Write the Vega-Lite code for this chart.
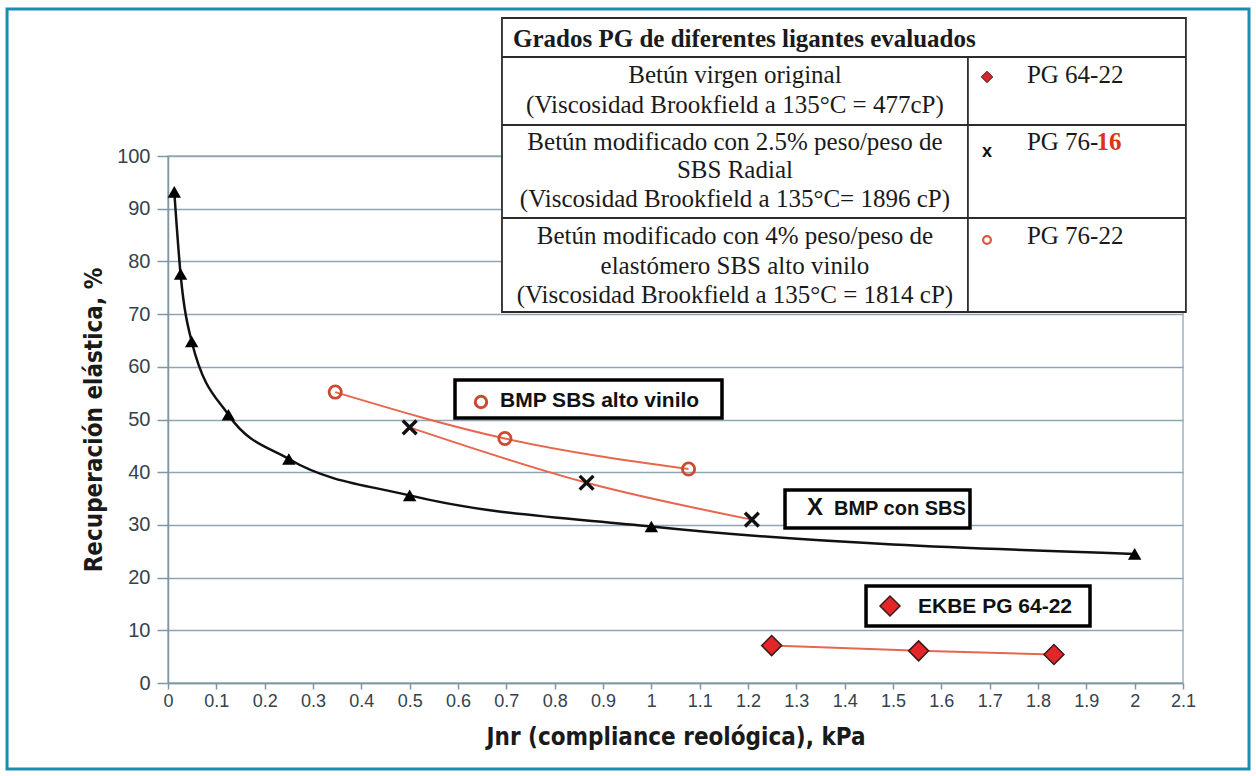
{
  "$schema": "https://vega.github.io/schema/vega-lite/v6.json",
  "width": 1015,
  "height": 527,
  "autosize": {"type": "none"},
  "padding": {"left": 168, "top": 156, "right": 73, "bottom": 93},
  "background": "white",
  "config": {"view": {"stroke": "#a3b3bd", "strokeWidth": 1.5}, "font": "Liberation Sans"},
  "datasets": {
    "series": [
      {"serie": "Referencia", "jnr": 0.013, "rec": 93.2},
      {"serie": "Referencia", "jnr": 0.026, "rec": 77.6},
      {"serie": "Referencia", "jnr": 0.049, "rec": 64.8},
      {"serie": "Referencia", "jnr": 0.125, "rec": 50.9},
      {"serie": "Referencia", "jnr": 0.25, "rec": 42.5},
      {"serie": "Referencia", "jnr": 0.5, "rec": 35.6},
      {"serie": "Referencia", "jnr": 1.0, "rec": 29.7},
      {"serie": "Referencia", "jnr": 2.0, "rec": 24.5},
      {"serie": "BMP SBS alto vinilo", "jnr": 0.346, "rec": 55.2},
      {"serie": "BMP SBS alto vinilo", "jnr": 0.697, "rec": 46.4},
      {"serie": "BMP SBS alto vinilo", "jnr": 1.077, "rec": 40.6},
      {"serie": "BMP con SBS", "jnr": 0.5, "rec": 48.5},
      {"serie": "BMP con SBS", "jnr": 0.866, "rec": 38.0},
      {"serie": "BMP con SBS", "jnr": 1.208, "rec": 31.0},
      {"serie": "EKBE PG 64-22", "jnr": 1.249, "rec": 7.1},
      {"serie": "EKBE PG 64-22", "jnr": 1.553, "rec": 6.1},
      {"serie": "EKBE PG 64-22", "jnr": 1.833, "rec": 5.4}
    ],
    "one": [{}]
  },
  "layer": [
    {"data": {"name": "one"},
     "mark": {"type": "rect", "filled": false, "stroke": "#1b8db1", "strokeWidth": 3},
     "encoding": {"x": {"datum": -0.333}, "x2": {"datum": 2.2366}, "y": {"datum": 127.9}, "y2": {"datum": -16.32}}},
    {"data": {"name": "series"},
     "transform": [{"filter": "datum.serie === 'Referencia'"}],
     "mark": {"type": "line", "interpolate": "monotone", "color": "#111111", "strokeWidth": 2.5},
     "encoding": {
      "x": {"field": "jnr", "type": "quantitative",
        "scale": {"domain": [0, 2.1], "nice": false, "zero": false},
        "axis": {"title": "Jnr (compliance reológica), kPa",
          "values": [0, 0.1, 0.2, 0.3, 0.4, 0.5, 0.6, 0.7, 0.8, 0.9, 1, 1.1, 1.2, 1.3, 1.4, 1.5, 1.6, 1.7, 1.8, 1.9, 2, 2.1],
          "format": "~g", "grid": false, "labelFlush": false, "labelOverlap": false,
          "domainColor": "#7f97a5", "domainWidth": 1.5, "tickColor": "#7f97a5", "tickWidth": 1.5, "tickSize": 6,
          "labelFont": "Liberation Sans", "labelFontSize": 18, "labelColor": "#34424c", "labelPadding": 3,
          "titleFont": "Liberation Sans Narrow, DejaVu Sans Condensed, Liberation Sans", "titleFontSize": 24, "titleFontWeight": "bold",
          "titleColor": "#1a1a1a", "titlePadding": 15}},
      "y": {"field": "rec", "type": "quantitative",
        "scale": {"domain": [0, 100], "nice": false, "zero": false},
        "axis": {"title": "Recuperación elástica, %",
          "values": [0, 10, 20, 30, 40, 50, 60, 70, 80, 90, 100],
          "grid": true, "gridColor": "#8ea5b2", "gridWidth": 1.5, "labelOverlap": false,
          "domainColor": "#7f97a5", "domainWidth": 1.5, "tickColor": "#7f97a5", "tickWidth": 1.5, "tickSize": 11,
          "labelFont": "Liberation Sans", "labelFontSize": 20, "labelColor": "#34424c", "labelPadding": 7,
          "titleFont": "Liberation Sans Narrow, DejaVu Sans Condensed, Liberation Sans", "titleFontSize": 24, "titleFontWeight": "bold",
          "titleColor": "#1a1a1a", "titlePadding": 10}}
     }},
    {"data": {"name": "series"},
     "transform": [{"filter": "datum.serie !== 'Referencia'"}],
     "mark": {"type": "line", "interpolate": "monotone", "color": "#e8664e", "strokeWidth": 2},
     "encoding": {"x": {"field": "jnr", "type": "quantitative"}, "y": {"field": "rec", "type": "quantitative"}, "detail": {"field": "serie"}}},
    {"data": {"name": "series"},
     "transform": [{"filter": "datum.serie === 'Referencia'"}],
     "mark": {"type": "point", "shape": "triangle-up", "filled": true, "color": "#000000", "size": 180, "opacity": 1},
     "encoding": {"x": {"field": "jnr", "type": "quantitative"}, "y": {"field": "rec", "type": "quantitative"}}},
    {"data": {"name": "series"},
     "transform": [{"filter": "datum.serie === 'BMP SBS alto vinilo'"}],
     "mark": {"type": "point", "shape": "circle", "filled": false, "stroke": "#cc4a30", "strokeWidth": 2.8, "size": 150, "opacity": 1},
     "encoding": {"x": {"field": "jnr", "type": "quantitative"}, "y": {"field": "rec", "type": "quantitative"}}},
    {"data": {"name": "series"},
     "transform": [{"filter": "datum.serie === 'BMP con SBS'"}],
     "mark": {"type": "point", "shape": "M -1 -1 L 1 1 M 1 -1 L -1 1", "filled": false, "stroke": "#111111", "strokeWidth": 3.4, "size": 190, "opacity": 1},
     "encoding": {"x": {"field": "jnr", "type": "quantitative"}, "y": {"field": "rec", "type": "quantitative"}}},
    {"data": {"name": "series"},
     "transform": [{"filter": "datum.serie === 'EKBE PG 64-22'"}],
     "mark": {"type": "point", "shape": "diamond", "filled": true, "fill": "#e3262a", "stroke": "#3a1a1a", "strokeWidth": 1.5, "size": 400, "opacity": 1},
     "encoding": {"x": {"field": "jnr", "type": "quantitative"}, "y": {"field": "rec", "type": "quantitative"}}},

    {"data": {"name": "one"},
     "mark": {"type": "rect", "fill": "white", "stroke": "#000000", "strokeWidth": 3.5},
     "encoding": {"x": {"datum": 0.5938}, "x2": {"datum": 1.1462}, "y": {"datum": 57.5}, "y2": {"datum": 50.28}}},
    {"data": {"name": "one"},
     "mark": {"type": "point", "shape": "circle", "filled": false, "stroke": "#cc4a30", "strokeWidth": 3, "size": 130, "opacity": 1},
     "encoding": {"x": {"datum": 0.6476}, "y": {"datum": 53.32}}},
    {"data": {"name": "one"},
     "mark": {"type": "text", "text": "BMP SBS alto vinilo", "align": "left", "baseline": "middle", "font": "Liberation Sans", "fontSize": 21, "fontWeight": "bold", "color": "#111111"},
     "encoding": {"x": {"datum": 0.6869}, "y": {"datum": 53.6}}},

    {"data": {"name": "one"},
     "mark": {"type": "rect", "fill": "white", "stroke": "#000000", "strokeWidth": 3.5},
     "encoding": {"x": {"datum": 1.2766}, "x2": {"datum": 1.6593}, "y": {"datum": 36.62}, "y2": {"datum": 29.41}}},
    {"data": {"name": "one"},
     "mark": {"type": "text", "text": "X", "align": "center", "baseline": "middle", "font": "Liberation Sans", "fontSize": 24, "fontWeight": "bold", "color": "#111111"},
     "encoding": {"x": {"datum": 1.3386}, "y": {"datum": 33.3}}},
    {"data": {"name": "one"},
     "mark": {"type": "text", "text": "BMP con SBS", "align": "left", "baseline": "middle", "font": "Liberation Sans", "fontSize": 20, "fontWeight": "bold", "color": "#111111"},
     "encoding": {"x": {"datum": 1.3779}, "y": {"datum": 33.0}}},

    {"data": {"name": "one"},
     "mark": {"type": "rect", "fill": "white", "stroke": "#000000", "strokeWidth": 3.5},
     "encoding": {"x": {"datum": 1.4442}, "x2": {"datum": 1.9076}, "y": {"datum": 18.41}, "y2": {"datum": 10.82}}},
    {"data": {"name": "one"},
     "mark": {"type": "point", "shape": "diamond", "filled": true, "fill": "#e3262a", "stroke": "#3a1a1a", "strokeWidth": 1.5, "size": 400, "opacity": 1},
     "encoding": {"x": {"datum": 1.4938}, "y": {"datum": 14.61}}},
    {"data": {"name": "one"},
     "mark": {"type": "text", "text": "EKBE PG 64-22", "align": "left", "baseline": "middle", "font": "Liberation Sans", "fontSize": 21, "fontWeight": "bold", "color": "#111111"},
     "encoding": {"x": {"datum": 1.5517}, "y": {"datum": 14.5}}},

    {"data": {"name": "one"},
     "mark": {"type": "rect", "fill": "white", "stroke": "#2b2b2b", "strokeWidth": 1.8},
     "encoding": {"x": {"datum": 0.691}, "x2": {"datum": 2.106}, "y": {"datum": 126.19}, "y2": {"datum": 70.4}}},
    {"data": {"name": "one"},
     "mark": {"type": "rule", "stroke": "#2b2b2b", "strokeWidth": 1.8},
     "encoding": {"x": {"datum": 0.691}, "x2": {"datum": 2.106}, "y": {"datum": 118.79}}},
    {"data": {"name": "one"},
     "mark": {"type": "rule", "stroke": "#2b2b2b", "strokeWidth": 1.8},
     "encoding": {"x": {"datum": 0.691}, "x2": {"datum": 2.106}, "y": {"datum": 105.88}}},
    {"data": {"name": "one"},
     "mark": {"type": "rule", "stroke": "#2b2b2b", "strokeWidth": 1.8},
     "encoding": {"x": {"datum": 0.691}, "x2": {"datum": 2.106}, "y": {"datum": 88.24}}},
    {"data": {"name": "one"},
     "mark": {"type": "rule", "stroke": "#2b2b2b", "strokeWidth": 1.8},
     "encoding": {"x": {"datum": 1.655}, "y": {"datum": 118.79}, "y2": {"datum": 70.4}}},
    {"data": {"name": "one"},
     "mark": {"type": "text", "text": "Grados PG de diferentes ligantes evaluados", "align": "left", "baseline": "alphabetic", "font": "Liberation Serif", "fontSize": 25, "fontWeight": "bold", "color": "#1a1a1a"},
     "encoding": {"x": {"datum": 0.7138}, "y": {"datum": 120.68}}},
    {"data": {"name": "one"},
     "mark": {"type": "text", "text": ["Betún virgen original", "(Viscosidad Brookfield a 135°C = 477cP)"], "lineHeight": 30, "align": "center", "baseline": "alphabetic", "font": "Liberation Serif", "fontSize": 25, "color": "#1a1a1a"},
     "encoding": {"x": {"datum": 1.173}, "y": {"datum": 113.85}}},
    {"data": {"name": "one"},
     "mark": {"type": "text", "text": ["Betún modificado con 2.5% peso/peso de", "SBS Radial", "(Viscosidad Brookfield a 135°C= 1896 cP)"], "lineHeight": 28.5, "align": "center", "baseline": "alphabetic", "font": "Liberation Serif", "fontSize": 25, "color": "#1a1a1a"},
     "encoding": {"x": {"datum": 1.173}, "y": {"datum": 101.14}}},
    {"data": {"name": "one"},
     "mark": {"type": "text", "text": ["Betún modificado con 4% peso/peso de", "elastómero SBS alto vinilo", "(Viscosidad Brookfield a 135°C = 1814 cP)"], "lineHeight": 29.5, "align": "center", "baseline": "alphabetic", "font": "Liberation Serif", "fontSize": 25, "color": "#1a1a1a"},
     "encoding": {"x": {"datum": 1.173}, "y": {"datum": 83.3}}},
    {"data": {"name": "one"},
     "mark": {"type": "point", "shape": "diamond", "filled": true, "fill": "#d8262a", "stroke": "#3a1a1a", "strokeWidth": 1, "size": 130, "opacity": 1},
     "encoding": {"x": {"datum": 1.6945}, "y": {"datum": 115.0}}},
    {"data": {"name": "one"},
     "mark": {"type": "text", "text": "x", "align": "center", "baseline": "middle", "font": "Liberation Sans", "fontSize": 18, "fontWeight": "bold", "color": "#111111"},
     "encoding": {"x": {"datum": 1.6945}, "y": {"datum": 100.8}}},
    {"data": {"name": "one"},
     "mark": {"type": "point", "shape": "circle", "filled": false, "stroke": "#d9573c", "strokeWidth": 2.2, "size": 60, "opacity": 1},
     "encoding": {"x": {"datum": 1.6945}, "y": {"datum": 84.06}}},
    {"data": {"name": "one"},
     "mark": {"type": "text", "text": "PG 64-22", "align": "left", "baseline": "alphabetic", "font": "Liberation Serif", "fontSize": 25, "color": "#1a1a1a"},
     "encoding": {"x": {"datum": 1.777}, "y": {"datum": 113.85}}},
    {"data": {"name": "one"},
     "mark": {"type": "text", "text": "PG 76-", "align": "left", "baseline": "alphabetic", "font": "Liberation Serif", "fontSize": 25, "color": "#1a1a1a"},
     "encoding": {"x": {"datum": 1.777}, "y": {"datum": 101.14}}},
    {"data": {"name": "one"},
     "mark": {"type": "text", "text": "16", "align": "left", "baseline": "alphabetic", "font": "Liberation Serif", "fontSize": 25, "fontWeight": "bold", "color": "#e0301e"},
     "encoding": {"x": {"datum": 1.921}, "y": {"datum": 101.14}}},
    {"data": {"name": "one"},
     "mark": {"type": "text", "text": "PG 76-22", "align": "left", "baseline": "alphabetic", "font": "Liberation Serif", "fontSize": 25, "color": "#1a1a1a"},
     "encoding": {"x": {"datum": 1.777}, "y": {"datum": 83.3}}}
  ]
}
